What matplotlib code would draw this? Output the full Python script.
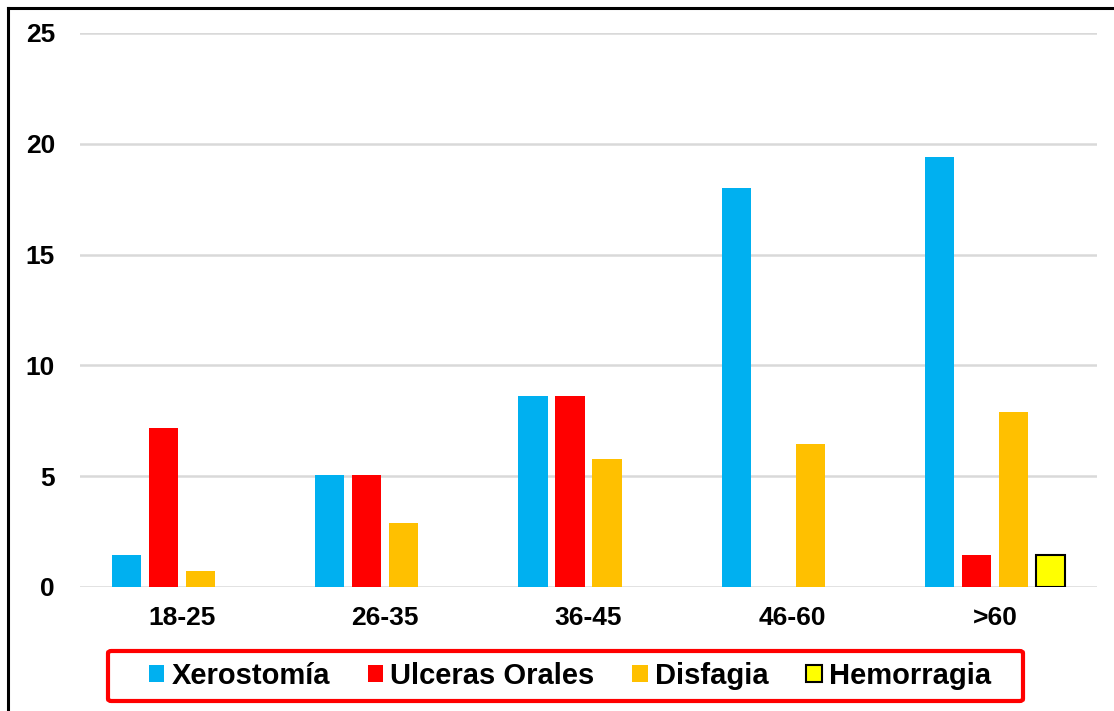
import matplotlib
matplotlib.use("Agg")
import matplotlib.pyplot as plt
import numpy as np
from matplotlib.lines import Line2D
from matplotlib.patches import FancyBboxPatch

plt.rcParams['font.family'] = ['Liberation Sans', 'DejaVu Sans']
plt.rcParams['font.weight'] = 'bold'

age_groups = ["18-25", "26-35", "36-45", "46-60", ">60"]
series_names = ["Xerostomía", "Ulceras Orales", "Disfagia", "Hemorragia"]
xerostomia = [1.44, 5.04, 8.63, 17.99, 19.42]
ulceras = [7.19, 5.04, 8.63, 0.0, 1.44]
disfagia = [0.72, 2.88, 5.76, 6.47, 7.91]
hemorragia = [0.0, 0.0, 0.0, 0.0, 1.44]
y_ticks = [0, 5, 10, 15, 20, 25]

colors = ["#00B0F0", "#FF0000", "#FFC000", "#FFFF00"]
edges = [None, None, None, "black"]

W, H = 1114, 711
fig = plt.figure(figsize=(W / 100, H / 100), dpi=100)
ax = fig.add_axes([80 / W, 1 - 587 / H, (1097 - 80) / W, (587 - 33) / H])

x = np.arange(len(age_groups))
slot = 0.182
width = 0.143
all_series = [xerostomia, ulceras, disfagia, hemorragia]
handles = []
for i, (name, vals) in enumerate(zip(series_names, all_series)):
    offs = (i - 1.5) * slot
    vals_arr = np.array(vals)
    mask = vals_arr > 0
    kw = dict(color=colors[i], zorder=3)
    if edges[i]:
        kw.update(edgecolor=edges[i], linewidth=1.5)
    bars = ax.bar(x[mask] + offs, vals_arr[mask], width, label=name, **kw)
    handles.append(bars)

ax.set_xlim(-0.5, len(age_groups) - 0.5)
ax.set_ylim(0, 25)
ax.set_yticks(y_ticks)
ax.set_xticks(x)
ax.set_xticklabels(age_groups)
ax.tick_params(axis='both', length=0, labelsize=19)
ax.tick_params(axis='y', pad=18)
ax.tick_params(axis='x', pad=14)
for lbl in ax.get_xticklabels() + ax.get_yticklabels():
    lbl.set_fontweight('bold')
ax.grid(axis='y', color='#D9D9D9', linewidth=1.8, zorder=0)
for s in ax.spines.values():
    s.set_visible(False)

# legend and its red frame
leg = fig.legend(handles=handles, labels=series_names, loc='center',
                 bbox_to_anchor=(570 / W, 1 - 676 / H), ncol=4, frameon=False,
                 fontsize=21, handlelength=0.52, handleheight=0.52,
                 handletextpad=0.25, columnspacing=1.3, borderpad=0)
for t in leg.get_texts():
    t.set_fontweight('bold')
frame = FancyBboxPatch((108 / W, 1 - 701 / H), (1023 - 108) / W, 50 / H,
                       boxstyle="round,pad=0,rounding_size=0.003",
                       transform=fig.transFigure, facecolor='none',
                       edgecolor='#FF0000', linewidth=3)
fig.add_artist(frame)

# outer border on top and left edges
fig.add_artist(Line2D([8 / W, 8 / W], [0, 1 - 8 / H], transform=fig.transFigure,
                      color='black', linewidth=2.2))
fig.add_artist(Line2D([8 / W, 1], [1 - 8 / H, 1 - 8 / H], transform=fig.transFigure,
                      color='black', linewidth=2.2))

fig.savefig("out.png", dpi=100)
